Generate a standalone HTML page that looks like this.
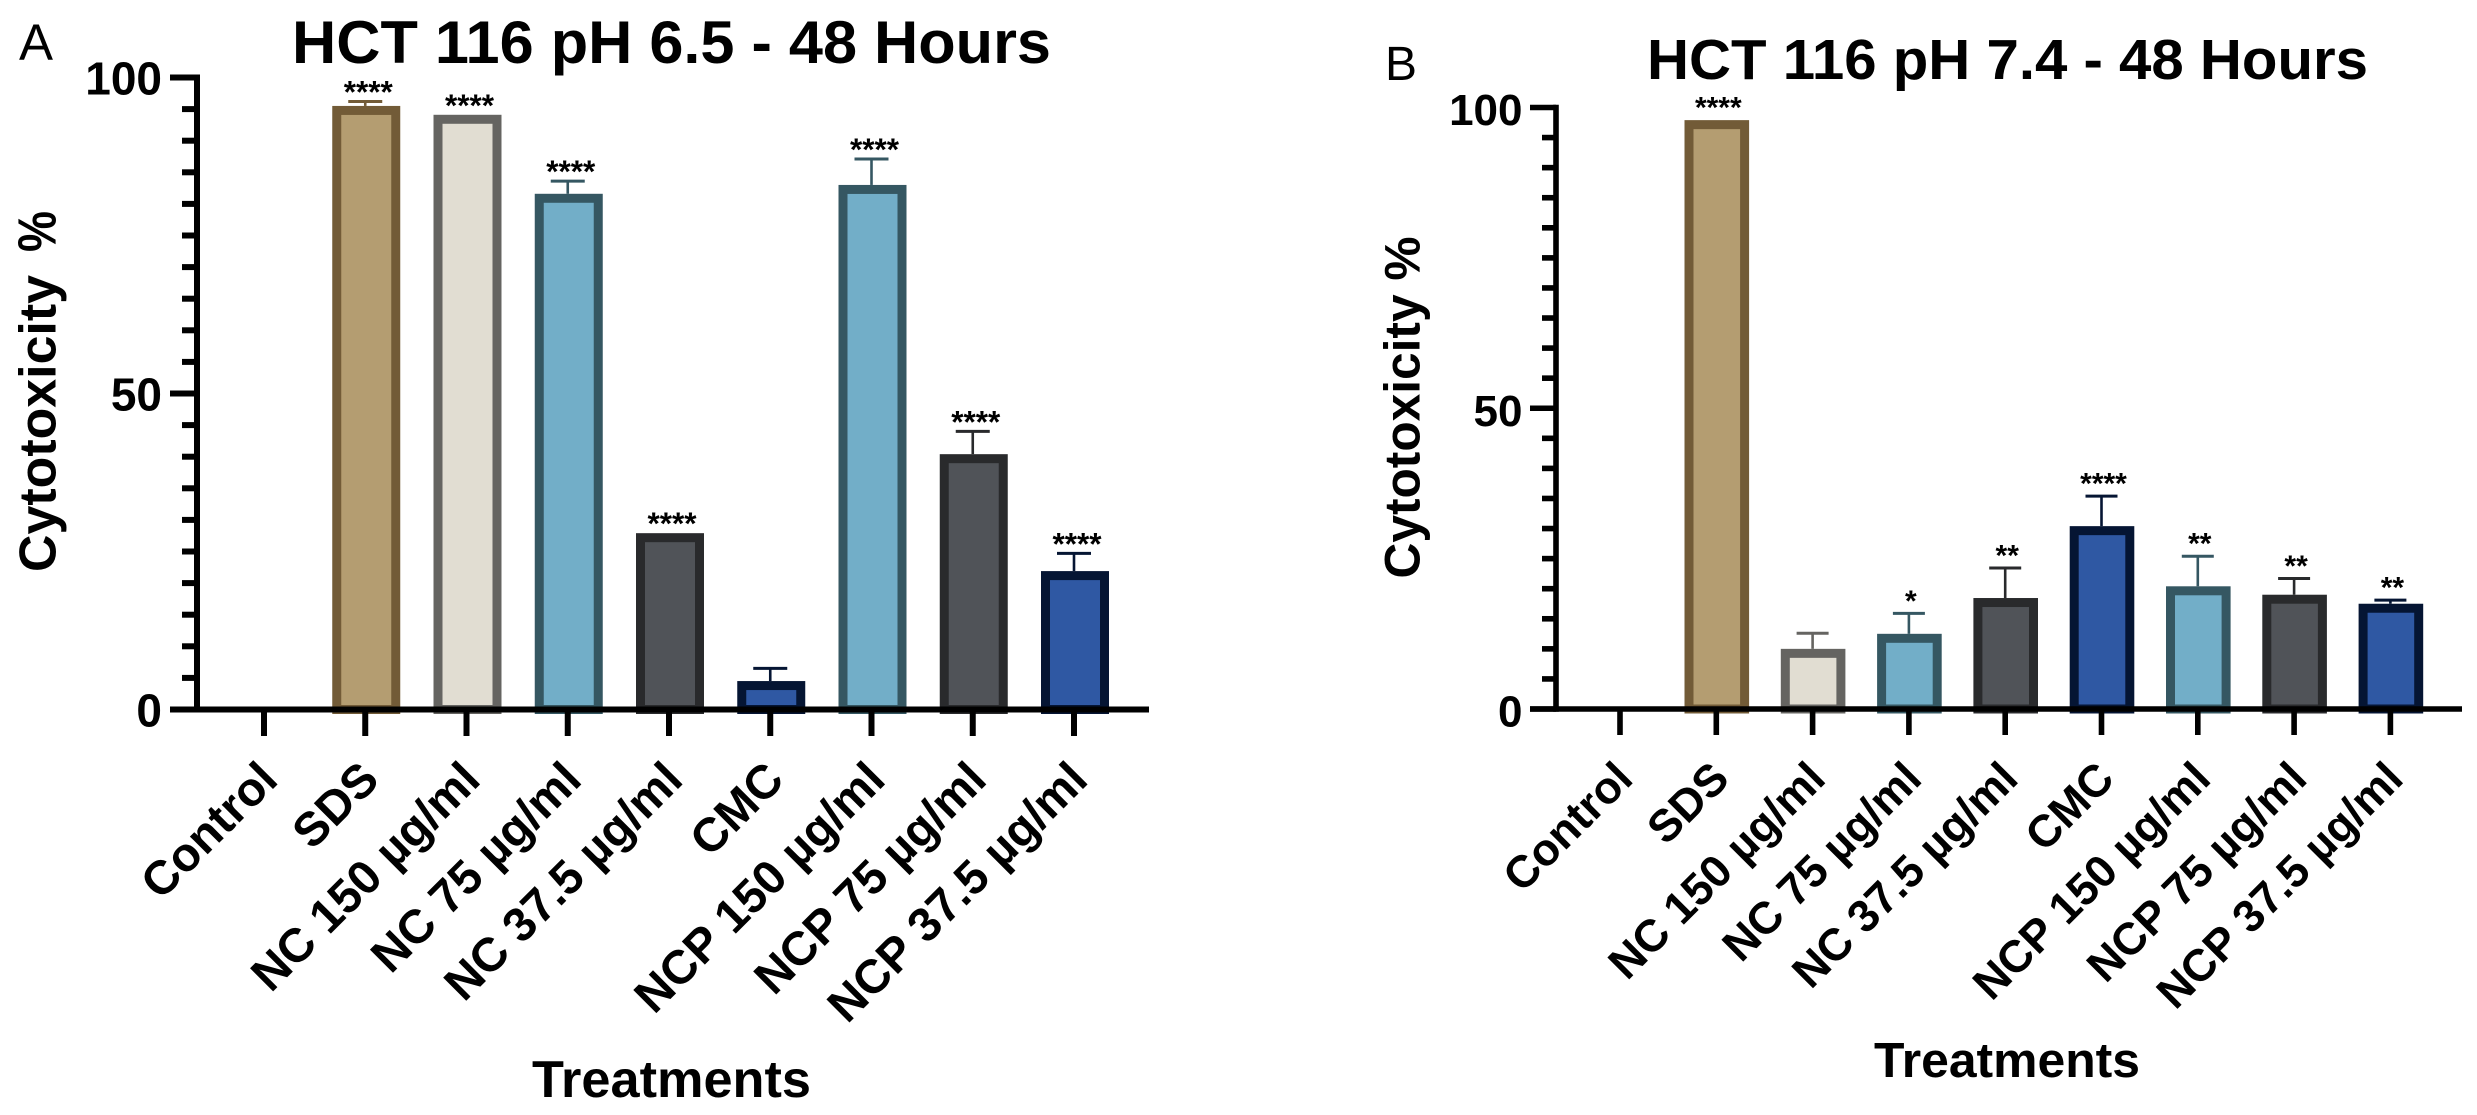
<!DOCTYPE html>
<html lang="en">
<head>
<meta charset="utf-8">
<title>HCT 116 Cytotoxicity</title>
<style>
html,body{margin:0;padding:0;background:#fff;}
svg{display:block;}
text{font-family:"Liberation Sans",Arial,sans-serif;fill:#000;}
.b{font-weight:700;}
</style>
</head>
<body>
<svg id="figure" xmlns="http://www.w3.org/2000/svg" width="2477" height="1115" viewBox="0 0 2477 1115">
  <rect x="0" y="0" width="2477" height="1115" fill="#ffffff"/>
  <text x="19" y="60" font-size="51">A</text>
  <text class="b" x="292" y="63" font-size="60" textLength="759" lengthAdjust="spacingAndGlyphs">HCT 116 pH 6.5 - 48 Hours</text>
  <text class="b" transform="translate(55.5 572) rotate(-90)" font-size="52" textLength="297" lengthAdjust="spacingAndGlyphs">Cytotoxicity</text>
  <text class="b" transform="translate(55.5 252) rotate(-90)" font-size="54" textLength="41" lengthAdjust="spacingAndGlyphs">%</text>
  <text class="b" x="532" y="1097" font-size="52" textLength="279" lengthAdjust="spacingAndGlyphs">Treatments</text>
  <text x="1385" y="80" font-size="48">B</text>
  <text class="b" x="1647" y="79" font-size="57" textLength="721" lengthAdjust="spacingAndGlyphs">HCT 116 pH 7.4 - 48 Hours</text>
  <text class="b" transform="translate(1419.5 578.5) rotate(-90)" font-size="50" textLength="342" lengthAdjust="spacingAndGlyphs">Cytotoxicity %</text>
  <text class="b" x="1874" y="1077" font-size="49" textLength="266" lengthAdjust="spacingAndGlyphs">Treatments</text>
</svg>
<script>
// ---- chart data ----
const categories = ["Control", "SDS", "NC 150 µg/ml", "NC 75 µg/ml", "NC 37.5 µg/ml", "CMC", "NCP 150 µg/ml", "NCP 75 µg/ml", "NCP 37.5 µg/ml"];
const yTickLabels = [0, 50, 100];

const valuesA = [0, 95.5, 94.1, 81.6, 27.9, 4.5, 83.0, 40.4, 21.9];
const errorsA = [0, 0.7, 0, 2.0, 0, 2.0, 4.1, 3.6, 2.8];
const starsA = ["", "****", "****", "****", "****", "", "****", "****", "****"];

const valuesB = [0, 97.9, 10.0, 12.5, 18.45, 30.4, 20.4, 19.0, 17.5];
const errorsB = [0, 0, 2.6, 3.4, 5.0, 5.0, 5.0, 2.7, 0.6];
const starsB = ["", "****", "", "*", "**", "****", "**", "**", "**"];

// ---- styles ----
const fillColors = ["#ffffff", "#b49d71", "#e1ddd2", "#72aec8", "#505358", "#2f58a3", "#72aec8", "#505358", "#2f58a3"];
const edgeColors = ["#000000", "#725b37", "#656461", "#355762", "#292a2c", "#051533", "#355762", "#292a2c", "#051533"];

const SVG_NS = "http://www.w3.org/2000/svg";
const figure = document.getElementById("figure");

function make(tag, attrs) {
  const el = document.createElementNS(SVG_NS, tag);
  for (const k in attrs) el.setAttribute(k, attrs[k]);
  return el;
}

function drawPanel(p, values, errors, stars) {
  const prefix = "panel-" + p.id + "-";
  const x = i => p.x0 + i * p.xStep;
  const y = v => p.yZero - v * p.yPerUnit;

  const group = make("g", {});
  
  
  figure.appendChild(group);

  categories.forEach((name, i) => {
    const cx = x(i);
    const v = values[i];
    const e = errors[i];

    if (e > 0) {
      const stem = make("line", {x1: cx, x2: cx, y1: y(v), y2: y(v + e), stroke: edgeColors[i], "stroke-width": 2.6});
      
      
      group.appendChild(stem);

      const cap = make("line", {x1: cx - p.capW / 2, x2: cx + p.capW / 2, y1: y(v + e), y2: y(v + e), stroke: edgeColors[i], "stroke-width": 3});
      
      
      group.appendChild(cap);
    }

    if (v > 0) {
      const bw = p.edge;
      const bar = make("rect", {
        x: cx + p.barShift - p.barW / 2 + bw / 2,
        y: y(v) + bw / 2,
        width: p.barW - bw,
        height: Math.max(0, p.yZero - y(v) - bw / 2),
        fill: fillColors[i],
        stroke: edgeColors[i],
        "stroke-width": bw
      });
      
      
      group.appendChild(bar);
    }

    if (stars[i]) {
      const star = make("text", {
        x: cx + p.starShift,
        y: y(v + e) + p.starDrop,
        "text-anchor": "middle",
        "font-size": p.starFont,
        class: "b"
      });
      
      
      star.textContent = stars[i];
      group.appendChild(star);
    }
  });

  // y axis
  const yAxis = make("line", {x1: p.axisX, x2: p.axisX, y1: y(100) - p.thick / 2, y2: p.yZero + p.thick / 2, stroke: "#000", "stroke-width": p.thick});
  
  
  group.appendChild(yAxis);

  for (let t = 5; t < 100; t += 5) {
    if (t === 50) continue;
    const minor = make("line", {x1: p.minorLeft, x2: p.axisX, y1: y(t), y2: y(t), stroke: "#000", "stroke-width": p.thick});
    
    
    group.appendChild(minor);
  }

  yTickLabels.forEach(t => {
    const tick = make("line", {x1: p.majorLeft, x2: p.axisX, y1: y(t), y2: y(t), stroke: "#000", "stroke-width": p.thick});
    
    
    group.appendChild(tick);

    const label = make("text", {x: p.labelRight, y: y(t) + p.tickDrop, "text-anchor": "end", "font-size": p.tickFont, class: "b"});
    
    
    label.textContent = t;
    group.appendChild(label);
  });

  // x axis
  const xAxis = make("line", {x1: p.majorLeft, x2: p.axisEnd, y1: p.yZero, y2: p.yZero, stroke: "#000", "stroke-width": p.thick});
  
  
  group.appendChild(xAxis);

  categories.forEach((name, i) => {
    const cx = x(i);
    const tick = make("line", {x1: cx, x2: cx, y1: p.yZero, y2: p.tickBottom, stroke: "#000", "stroke-width": p.thick});
    
    
    group.appendChild(tick);

    const lx = cx + p.catShift;
    const label = make("text", {
      transform: "translate(" + lx + " " + p.catY + ") rotate(-45)",
      "text-anchor": "end",
      "font-size": p.catFont,
      class: "b"
    });
    
    
    label.textContent = name;
    group.appendChild(label);
  });
}

drawPanel({
  id: "a", x0: 264, xStep: 101.25, yZero: 709.5, yPerUnit: 6.32,
  axisX: 197, axisEnd: 1149, majorLeft: 170, minorLeft: 182, thick: 6, tickBottom: 736,
  barW: 68, edge: 9, barShift: 1, capW: 34,
  labelRight: 162, tickFont: 46, tickDrop: 17,
  catShift: 16, catY: 782, catFont: 47.5,
  starShift: 3, starDrop: 1, starFont: 31.5
}, valuesA, errorsA, starsA);

drawPanel({
  id: "b", x0: 1620, xStep: 96.3, yZero: 709, yPerUnit: 6.015,
  axisX: 1556, axisEnd: 2462, majorLeft: 1530, minorLeft: 1542, thick: 5.6, tickBottom: 735,
  barW: 64.6, edge: 9, barShift: 0.5, capW: 32,
  labelRight: 1522.5, tickFont: 44, tickDrop: 17.5,
  catShift: 15, catY: 781, catFont: 45,
  starShift: 2, starDrop: -2.5, starFont: 30
}, valuesB, errorsB, starsB);
</script>
</body>
</html>
